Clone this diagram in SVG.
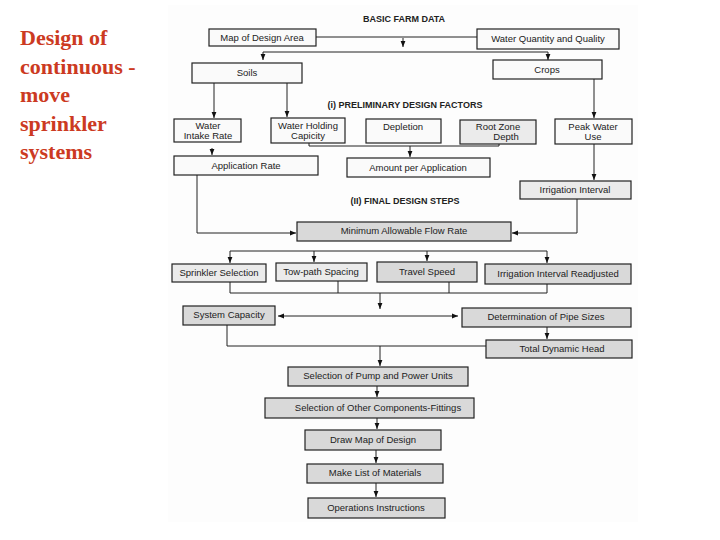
<svg xmlns="http://www.w3.org/2000/svg" width="720" height="540" viewBox="0 0 720 540">
<defs>
<marker id="ah" viewBox="0 0 10 10" refX="10" refY="5" markerWidth="6" markerHeight="6" orient="auto-start-reverse" markerUnits="userSpaceOnUse">
<path d="M0,1 L10,5 L0,9 Z" fill="#111"/>
</marker>
</defs>
<style>
.t{font-family:"Liberation Sans",Arial,sans-serif;font-size:9.5px;fill:#222;text-anchor:middle}
.h{font-family:"Liberation Sans",Arial,sans-serif;font-size:9px;font-weight:bold;fill:#222;text-anchor:middle}
.w rect{fill:#fafafa;stroke:#222;stroke-width:1.2}
.g rect{fill:#d9d9d9;stroke:#222;stroke-width:1.2}
.lg rect{fill:#ebebeb;stroke:#222;stroke-width:1.2}
.c path{fill:none;stroke:#222;stroke-width:1}
.c .a{marker-end:url(#ah)}
.title{font-family:"Liberation Serif","Times New Roman",serif;font-size:22px;font-weight:bold;fill:#cc3a22}
</style>
<rect x="0" y="0" width="720" height="540" fill="#fff"/>
<rect x="168" y="5" width="470" height="517" fill="#fdfdfd"/>
<g id="title">
<text class="title" x="20" y="45">Design of</text>
<text class="title" x="20" y="74">continuous -</text>
<text class="title" x="20" y="102">move</text>
<text class="title" x="20" y="131">sprinkler</text>
<text class="title" x="20" y="159">systems</text>
</g>
<g id="headings">
<text class="h" x="404" y="22">BASIC FARM DATA</text>
<text class="h" x="405" y="108">(i) PRELIMINARY DESIGN FACTORS</text>
<text class="h" x="405" y="204">(II) FINAL DESIGN STEPS</text>
</g>
<g class="c" id="connectors">
<path d="M316,37 H477"/>
<path class="a" d="M403,38 V47"/>
<path d="M263,52 H548"/>
<path class="a" d="M263,52 V60"/>
<path class="a" d="M548,52 V60"/>
<path class="a" d="M214,83 V118"/>
<path class="a" d="M287,83 V117"/>
<path class="a" d="M594,79 V118"/>
<path d="M309,143 V146 H499 V144"/>
<path class="a" d="M410,146 V157"/>
<path class="a" d="M212,148 V155"/>
<path class="a" d="M594,144 V180"/>
<path class="a" d="M197,175 V233 H296"/>
<path class="a" d="M577,199 V233 H512"/>
<path d="M230,251 H547"/>
<path class="a" d="M230,251 V263"/>
<path class="a" d="M314,251 V262"/>
<path class="a" d="M427,251 V261"/>
<path class="a" d="M547,251 V263"/>
<path d="M230,282 V293 H547 V284"/>
<path d="M338,281 V293"/>
<path d="M449,282 V293"/>
<path class="a" d="M380,293 V309"/>
<path class="a" d="M380,316 H458"/>
<path class="a" d="M380,316 H278"/>
<path d="M227,325 V346 H486"/>
<path class="a" d="M547,327 V339"/>
<path class="a" d="M380,346 V366"/>
<path class="a" d="M377,386 V397"/>
<path class="a" d="M377,418 V429"/>
<path class="a" d="M376,450 V463"/>
<path class="a" d="M376,483 V497"/>
</g>
<g id="n1" class="w"><rect x="209" y="29" width="107" height="17"/><text class="t" x="262" y="41">Map of Design Area</text></g>
<g id="n2" class="w"><rect x="477" y="29" width="142" height="20"/><text class="t" x="548" y="42">Water Quantity and Quality</text></g>
<g id="n3" class="w"><rect x="192" y="63" width="110" height="20"/><text class="t" x="247" y="76">Soils</text></g>
<g id="n4" class="w"><rect x="493" y="60" width="109" height="19"/><text class="t" x="547" y="73">Crops</text></g>
<g id="n5" class="w"><rect x="174" y="119" width="67" height="23"/><text class="t" x="208" y="129">Water</text><text class="t" x="208" y="139">Intake Rate</text></g>
<g id="n6" class="w"><rect x="271" y="118" width="74" height="25"/><text class="t" x="308" y="129">Water Holding</text><text class="t" x="308" y="139">Capicity</text></g>
<g id="n7" class="w"><rect x="366" y="119" width="75" height="24"/><text class="t" x="403" y="130">Depletion</text></g>
<g id="n8" class="lg"><rect x="460" y="120" width="76" height="24"/><text class="t" x="498" y="130">Root Zone</text><text class="t" x="506" y="140">Depth</text></g>
<g id="n9" class="w"><rect x="555" y="119" width="77" height="25"/><text class="t" x="593" y="130">Peak Water</text><text class="t" x="593" y="140">Use</text></g>
<g id="n10" class="w"><rect x="174" y="156" width="144" height="19"/><text class="t" x="246" y="169">Application Rate</text></g>
<g id="n11" class="w"><rect x="347" y="158" width="143" height="19"/><text class="t" x="418" y="171">Amount per Application</text></g>
<g id="n12" class="lg"><rect x="520" y="181" width="111" height="18"/><text class="t" x="575" y="193">Irrigation Interval</text></g>
<g id="n13" class="g"><rect x="297" y="222" width="214" height="19"/><text class="t" x="404" y="234">Minimum Allowable Flow Rate</text></g>
<g id="n14" class="lg"><rect x="172" y="264" width="94" height="18"/><text class="t" x="219" y="276">Sprinkler Selection</text></g>
<g id="n15" class="lg"><rect x="276" y="263" width="91" height="18"/><text class="t" x="321" y="275">Tow-path Spacing</text></g>
<g id="n16" class="g"><rect x="377" y="262" width="100" height="20"/><text class="t" x="427" y="275">Travel Speed</text></g>
<g id="n17" class="g"><rect x="485" y="264" width="146" height="20"/><text class="t" x="558" y="277">Irrigation Interval Readjusted</text></g>
<g id="n18" class="g"><rect x="183" y="306" width="92" height="19"/><text class="t" x="229" y="318">System Capacity</text></g>
<g id="n19" class="g"><rect x="462" y="308" width="169" height="19"/><text class="t" x="546" y="320">Determination of Pipe Sizes</text></g>
<g id="n20" class="g"><rect x="486" y="340" width="146" height="18"/><text class="t" x="562" y="352">Total Dynamic Head</text></g>
<g id="n21" class="g"><rect x="288" y="367" width="180" height="19"/><text class="t" x="378" y="379">Selection of Pump and Power Units</text></g>
<g id="n22" class="g"><rect x="265" y="398" width="209" height="20"/><text class="t" x="378" y="411">Selection of Other Components-Fittings</text></g>
<g id="n23" class="g"><rect x="305" y="430" width="136" height="20"/><text class="t" x="373" y="443">Draw Map of Design</text></g>
<g id="n24" class="g"><rect x="307" y="464" width="136" height="19"/><text class="t" x="375" y="476">Make List of Materials</text></g>
<g id="n25" class="g"><rect x="308" y="498" width="137" height="20"/><text class="t" x="376" y="511">Operations Instructions</text></g>
</svg>
